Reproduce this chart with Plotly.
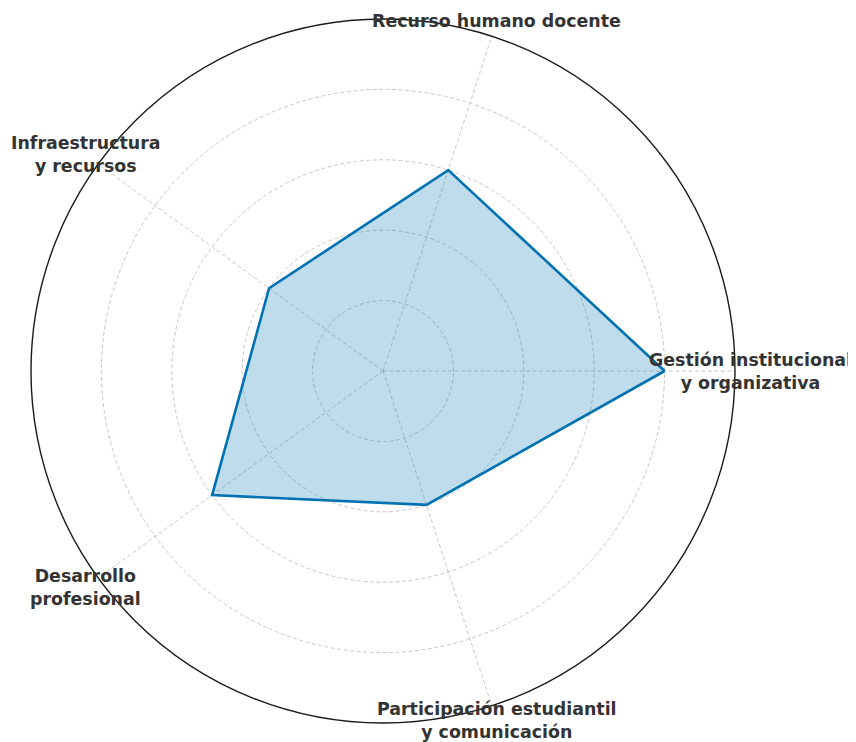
import math
import plotly.graph_objects as go

categories = [
    "Gestión institucional<br>y organizativa",
    "Recurso humano docente",
    "Infraestructura<br>y recursos",
    "Desarrollo<br>profesional",
    "Participación estudiantil<br>y comunicación",
]
values = [4, 3, 2, 3, 2]
r_max = 5
grid_ticks = [1, 2, 3, 4]

W, H = 856, 742
CX, CY, R = 383, 371, 352          # desired polar centre / radius in pixels
SHIFT = 8                           # page body margin compensation
LABEL_FACTOR = 1.045                # label distance relative to outer circle

theta_closed = categories + categories[:1]
r_closed = values + values[:1]

fig = go.Figure()
fig.add_trace(go.Scatterpolar(
    r=r_closed, theta=theta_closed, mode="lines",
    line=dict(color="#0072B2", width=2.6),
    fill="toself", fillcolor="rgba(0,114,178,0.25)",
    hoverinfo="skip", showlegend=False,
))

annotations = []
n = len(categories)
for i, cat in enumerate(categories):
    ang = 2 * math.pi * i / n
    px = CX + LABEL_FACTOR * R * math.cos(ang) - SHIFT
    py = CY - LABEL_FACTOR * R * math.sin(ang) - SHIFT
    annotations.append(dict(
        x=px / W, y=1 - py / H, xref="paper", yref="paper",
        text=cat, showarrow=False, xanchor="center", yanchor="middle",
        align="center",
        font=dict(family="DejaVu Sans", size=17.4, color="#333333", weight="bold"),
    ))

x0 = (CX - R - SHIFT) / W
x1 = (CX + R - SHIFT) / W
y0 = 1 - (CY + R - SHIFT) / H
y1 = 1 - (CY - R - SHIFT) / H

fig.update_layout(
    width=W, height=H,
    margin=dict(l=0, r=0, t=0, b=0),
    paper_bgcolor="white",
    plot_bgcolor="white",
    annotations=annotations,
    polar=dict(
        bgcolor="white",
        domain=dict(x=[x0, x1], y=[y0, y1]),
        radialaxis=dict(
            range=[0, r_max], tickvals=grid_ticks, showticklabels=False,
            ticks="", showline=False, gridcolor="#c8c8c8", griddash="4px,2.5px",
            gridwidth=0.8,
        ),
        angularaxis=dict(
            direction="counterclockwise", rotation=0,
            showticklabels=False, ticks="",
            showline=True, linecolor="#1a1a1a", linewidth=1.4,
            gridcolor="#c8c8c8", griddash="4px,2.5px", gridwidth=0.8,
        ),
    ),
)

fig.write_html("out.html")
